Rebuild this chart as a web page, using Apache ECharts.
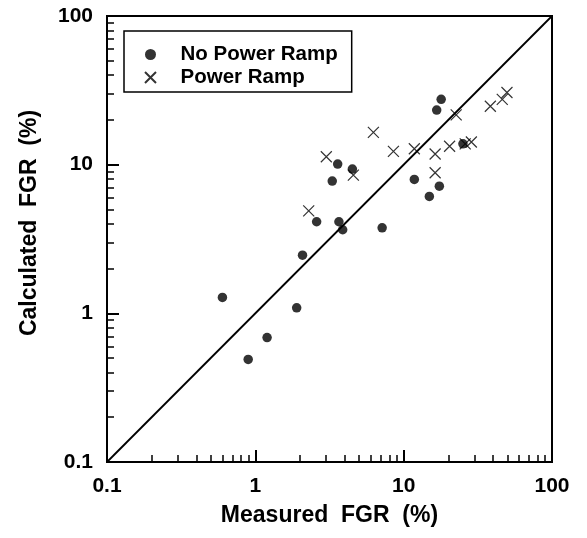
<!DOCTYPE html>
<html>
<head>
<meta charset="utf-8">
<script src="https://cdn.jsdelivr.net/npm/echarts@6/dist/echarts.min.js"></script>
<style>
  html, body { margin: 0; padding: 0; background: #fff; }
  #chart { width: 587px; height: 538px; }
</style>
</head>
<body>
<div id="chart"></div>
<script>
// measured vs calculated FGR (%)
const noRampX = [0.60, 0.895, 1.20, 1.90, 2.08, 2.59, 3.30, 3.59, 3.66, 3.88, 4.51, 7.16, 11.8, 14.9, 17.4, 16.7, 17.9, 25.1]
const noRampY = [1.28, 0.49, 0.687, 1.09, 2.46, 4.13, 7.75, 10.1, 4.13, 3.65, 9.34, 3.76, 7.95, 6.11, 7.17, 23.3, 27.5, 13.8]
const rampX = [2.29, 3.01, 4.58, 6.25, 8.53, 11.8, 16.3, 16.3, 20.4, 22.6, 26.0, 28.6, 38.4, 46.2, 49.7]
const rampY = [4.89, 11.3, 8.5, 16.5, 12.3, 12.8, 11.8, 8.82, 13.3, 21.6, 13.8, 14.2, 24.7, 27.5, 30.6]
const diagonal = [0.1, 100]
const majorTicks = [0.1, 1, 10, 100]
const minorTicks = [0.2, 0.3, 0.4, 0.5, 0.6, 0.7, 0.8, 0.9, 2, 3, 4, 5, 6, 7, 8, 9, 20, 30, 40, 50, 60, 70, 80, 90]

const font = 'Liberation Sans'
const pairs = (xs, ys) => xs.map((x, i) => [x, ys[i]])

const myChart = echarts.init(document.getElementById('chart'))

const labelStyle = {
  fontFamily: font,
  fontWeight: 'bold',
  fontSize: 21,
  color: '#000',
  margin: 14,
  customValues: majorTicks,
  formatter: v => String(+(+v).toPrecision(3)),
}

function mainAxis(position) {
  return {
    type: 'log',
    logBase: 10,
    min: 0.1,
    max: 100,
    position: position,
    axisLine: { show: true, onZero: false, lineStyle: { color: '#000', width: 2 } },
    axisTick: { show: true, inside: true, length: 12, customValues: majorTicks, lineStyle: { color: '#000', width: 2 } },
    axisLabel: labelStyle,
    splitLine: { show: false },
    minorTick: { show: false },
  }
}

// second axis on the same side, only for the short ticks
function minorAxis(position) {
  return {
    type: 'log',
    logBase: 10,
    min: 0.1,
    max: 100,
    position: position,
    offset: 0,
    axisLine: { show: false, onZero: false },
    axisTick: { show: true, inside: true, length: 7, customValues: minorTicks, lineStyle: { color: '#000', width: 1.5 } },
    axisLabel: { show: false },
    splitLine: { show: false },
  }
}

const xMain = mainAxis('bottom')
xMain.name = 'Measured  FGR  (%)'
xMain.nameLocation = 'middle'
xMain.nameGap = 42
xMain.nameTextStyle = { fontFamily: font, fontWeight: 'bold', fontSize: 23, color: '#000' }

const option = {
  backgroundColor: '#fff',
  animation: false,
  grid: {
    left: 107,
    right: 35,
    top: 16,
    bottom: 76,
    show: true,
    borderColor: '#000',
    borderWidth: 2,
  },
  graphic: [
    {
      type: 'text',
      x: 30,
      y: 223,
      rotation: Math.PI / 2,
      style: {
        text: 'Calculated  FGR  (%)',
        fontFamily: font,
        fontWeight: 'bold',
        fontSize: 23,
        fill: '#000',
        align: 'center',
        verticalAlign: 'middle',
      },
    },
  ],
  legend: {
    data: ['No Power Ramp', 'Power Ramp'],
    orient: 'vertical',
    left: 124,
    top: 31,
    padding: [12, 14, 3, 20],
    itemWidth: 50,
    itemHeight: 11,
    itemGap: 0,
    borderColor: '#000',
    borderWidth: 1.5,
    textStyle: { fontFamily: font, fontWeight: 'bold', fontSize: 20.5, color: '#000', lineHeight: 23 },
  },
  xAxis: [xMain, minorAxis('bottom')],
  yAxis: [mainAxis('left'), minorAxis('left')],
  series: [
    {
      name: 'y = x',
      type: 'line',
      data: pairs(diagonal, diagonal),
      showSymbol: false,
      symbol: 'none',
      lineStyle: { color: '#000', width: 1.8 },
      silent: true,
    },
    {
      name: 'No Power Ramp',
      type: 'scatter',
      symbol: 'circle',
      symbolSize: 9.5,
      itemStyle: { color: '#000' },
      data: pairs(noRampX, noRampY),
    },
    {
      name: 'Power Ramp',
      type: 'scatter',
      symbol: 'path://M0,0L10,10M0,10L10,0',
      symbolSize: 11,
      itemStyle: { color: 'rgba(0,0,0,0)', borderColor: '#000', borderWidth: 1.2 },
      data: pairs(rampX, rampY),
    },
  ],
}

option && myChart.setOption(option)
</script>
</body>
</html>
